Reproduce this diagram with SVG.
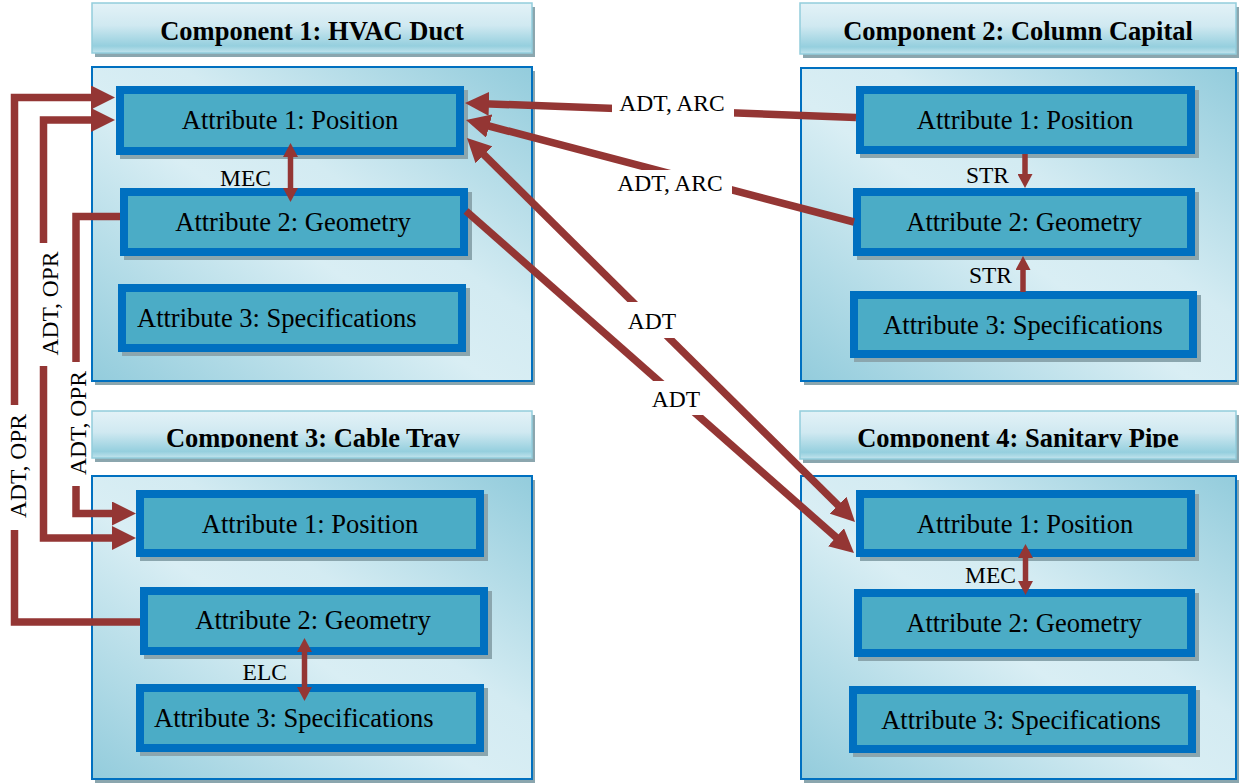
<svg xmlns="http://www.w3.org/2000/svg" width="1245" height="784" viewBox="0 0 1245 784">
<style>
.hdr{fill:url(#hdrGrad);stroke:#92cddc;stroke-width:1.5}
.shd{fill:#8ba6ae}
.body{fill:url(#bodyGrad);stroke:#0070c0;stroke-width:2}
.attr{fill:#4bacc6;stroke:#0070c0;stroke-width:8}
.ht{font-family:"Liberation Serif","Times New Roman",serif;font-weight:bold;font-size:26.5px;text-anchor:middle;fill:#000}
.at{font-family:"Liberation Serif","Times New Roman",serif;font-size:26.5px;text-anchor:middle;fill:#000}
.st{text-anchor:start}
.lb{font-family:"Liberation Serif","Times New Roman",serif;font-size:23.5px;fill:#000}
.mid{text-anchor:middle}
.end{text-anchor:end}
.conn{fill:none;stroke:#943634;stroke-width:7.5}
.ic{fill:none;stroke:#943634;stroke-width:5.5}
.gap{fill:#ffffff}
</style>
<defs>
<linearGradient id="hdrGrad" x1="0" y1="0" x2="0" y2="1">
<stop offset="0" stop-color="#e3f2f7"/>
<stop offset="0.45" stop-color="#d0e9f1"/>
<stop offset="0.86" stop-color="#95cfde"/>
<stop offset="1" stop-color="#c3e4ed"/>
</linearGradient>
<linearGradient id="bodyGrad" x1="0" y1="1" x2="1" y2="0">
<stop offset="0" stop-color="#93ccdc"/>
<stop offset="0.45" stop-color="#d9eef4"/>
<stop offset="0.6" stop-color="#d3ebf2"/>
<stop offset="1" stop-color="#93ccdc"/>
</linearGradient>
<marker id="ah" markerUnits="userSpaceOnUse" markerWidth="24" markerHeight="24" refX="12" refY="12" orient="auto-start-reverse"><path d="M0,0 L24,12 L0,24 z" fill="#943634"/></marker>
<marker id="sh" markerUnits="userSpaceOnUse" markerWidth="14" markerHeight="15" refX="7" refY="7.5" orient="auto-start-reverse"><path d="M0,0 L14,7.5 L0,15 z" fill="#943634"/></marker>
<clipPath id="clip3"><rect x="92" y="411" width="440" height="36.5"/></clipPath>
<clipPath id="clip4"><rect x="800" y="411" width="436" height="36.5"/></clipPath>
</defs>
<rect width="1245" height="784" fill="#ffffff"/>

<g id="component1">
<rect class="shd" x="95" y="7" width="440" height="50"/>
<rect class="hdr" x="92" y="3" width="440" height="50"/>
<text class="ht" x="312" y="40">Component 1: HVAC Duct</text>
<rect class="shd" x="95" y="71" width="440" height="314"/>
<rect class="body" x="92" y="67" width="440" height="314"/>
<g id="c1-attr1"><rect class="shd" x="120" y="90" width="348" height="69"/><rect class="attr" x="120" y="90" width="340" height="61"/><text class="at" x="290" y="129">Attribute 1: Position</text></g>
<g id="c1-attr2"><rect class="shd" x="124" y="192" width="348" height="68"/><rect class="attr" x="124" y="192" width="340" height="60"/><text class="at" x="293" y="231">Attribute 2: Geometry</text></g>
<g id="c1-attr3"><rect class="shd" x="122" y="288" width="348" height="68"/><rect class="attr" x="122" y="288" width="340" height="60"/><text class="at st" x="137" y="327">Attribute 3: Specifications</text></g>
</g>

<g id="component2">
<rect class="shd" x="803" y="7" width="436" height="51"/>
<rect class="hdr" x="800" y="3" width="436" height="51"/>
<text class="ht" x="1018" y="40">Component 2: Column Capital</text>
<rect class="shd" x="804" y="72" width="435" height="313"/>
<rect class="body" x="801" y="68" width="435" height="313"/>
<g id="c2-attr1"><rect class="shd" x="860" y="90" width="339" height="68"/><rect class="attr" x="860" y="90" width="331" height="60"/><text class="at" x="1025" y="129">Attribute 1: Position</text></g>
<g id="c2-attr2"><rect class="shd" x="857" y="192" width="342" height="68"/><rect class="attr" x="857" y="192" width="334" height="60"/><text class="at" x="1024" y="231">Attribute 2: Geometry</text></g>
<g id="c2-attr3"><rect class="shd" x="854" y="295" width="347" height="67"/><rect class="attr" x="854" y="295" width="339" height="59"/><text class="at" x="1023" y="334">Attribute 3: Specifications</text></g>
</g>

<g id="component3">
<rect class="shd" x="95" y="415" width="440" height="47"/>
<rect class="hdr" x="92" y="411" width="440" height="47"/>
<text class="ht" x="313" y="447" clip-path="url(#clip3)">Component 3: Cable Tray</text>
<rect class="shd" x="95" y="480" width="440" height="303"/>
<rect class="body" x="92" y="476" width="440" height="303"/>
<g id="c3-attr1"><rect class="shd" x="140" y="494" width="348" height="67"/><rect class="attr" x="140" y="494" width="340" height="59"/><text class="at" x="310" y="533">Attribute 1: Position</text></g>
<g id="c3-attr2"><rect class="shd" x="144" y="591" width="348" height="68"/><rect class="attr" x="144" y="591" width="340" height="60"/><text class="at" x="313" y="629">Attribute 2: Geometry</text></g>
<g id="c3-attr3"><rect class="shd" x="140" y="688" width="348" height="68"/><rect class="attr" x="140" y="688" width="340" height="60"/><text class="at st" x="154" y="727">Attribute 3: Specifications</text></g>
</g>

<g id="component4">
<rect class="shd" x="803" y="415" width="436" height="48"/>
<rect class="hdr" x="800" y="411" width="436" height="48"/>
<text class="ht" x="1018" y="447" clip-path="url(#clip4)">Component 4: Sanitary Pipe</text>
<rect class="shd" x="804" y="480" width="435" height="303"/>
<rect class="body" x="801" y="476" width="435" height="303"/>
<g id="c4-attr1"><rect class="shd" x="860" y="494" width="339" height="67"/><rect class="attr" x="860" y="494" width="331" height="59"/><text class="at" x="1025" y="533">Attribute 1: Position</text></g>
<g id="c4-attr2"><rect class="shd" x="858" y="593" width="341" height="68"/><rect class="attr" x="858" y="593" width="333" height="60"/><text class="at" x="1024" y="632">Attribute 2: Geometry</text></g>
<g id="c4-attr3"><rect class="shd" x="853" y="690" width="347" height="67"/><rect class="attr" x="853" y="690" width="339" height="59"/><text class="at" x="1021" y="729">Attribute 3: Specifications</text></g>
</g>

<g id="connectors">
<!-- internal -->
<path class="ic" d="M290.5,150 V195" marker-start="url(#sh)" marker-end="url(#sh)"/>
<text class="lb end" x="271" y="186">MEC</text>
<path class="ic" d="M1025,154 V181" marker-end="url(#sh)"/>
<text class="lb end" x="1009" y="183">STR</text>
<path class="ic" d="M1023,292 V263" marker-end="url(#sh)"/>
<text class="lb end" x="1012" y="283">STR</text>
<path class="ic" d="M304.5,645 V694" marker-start="url(#sh)" marker-end="url(#sh)"/>
<text class="lb end" x="287" y="680">ELC</text>
<path class="ic" d="M1025.5,551 V588" marker-start="url(#sh)" marker-end="url(#sh)"/>
<text class="lb end" x="1016" y="583">MEC</text>

<!-- cross -->
<path class="conn" d="M856,117.5 L477,103.4" marker-end="url(#ah)"/>
<rect class="gap" x="612" y="90" width="122" height="28"/>
<text class="lb mid" x="672" y="111">ADT, ARC</text>
<path class="conn" d="M854,222 L477.6,123" marker-end="url(#ah)"/>
<rect class="gap" x="610" y="170" width="122" height="26"/>
<text class="lb mid" x="670" y="191">ADT, ARC</text>
<path class="conn" d="M475.5,146.4 L846.5,513.6" marker-start="url(#ah)" marker-end="url(#ah)"/>
<rect class="gap" x="626" y="302" width="54" height="36"/>
<text class="lb mid" x="652" y="329">ADT</text>
<path class="conn" d="M466,211 L845,545.1" marker-end="url(#ah)"/>
<rect class="gap" x="648" y="381" width="55" height="34"/>
<text class="lb mid" x="676" y="407">ADT</text>

<!-- left side -->
<path class="conn" d="M140,622 H14.5 V97.5 H103" marker-end="url(#ah)"/>
<rect class="gap" x="5" y="405" width="26" height="125"/>
<text class="lb mid" transform="translate(25.5,466) rotate(-90)">ADT, OPR</text>
<path class="conn" d="M103,120 H43.5 V538 H124" marker-start="url(#ah)" marker-end="url(#ah)"/>
<rect class="gap" x="36" y="243" width="27" height="123"/>
<text class="lb mid" transform="translate(58,303.5) rotate(-90)">ADT, OPR</text>
<path class="conn" d="M120,216.5 H76 V513.5 H124" marker-end="url(#ah)"/>
<rect class="gap" x="67" y="362" width="24" height="124"/>
<text class="lb mid" transform="translate(86,423) rotate(-90)">ADT, OPR</text>
</g>
</svg>
